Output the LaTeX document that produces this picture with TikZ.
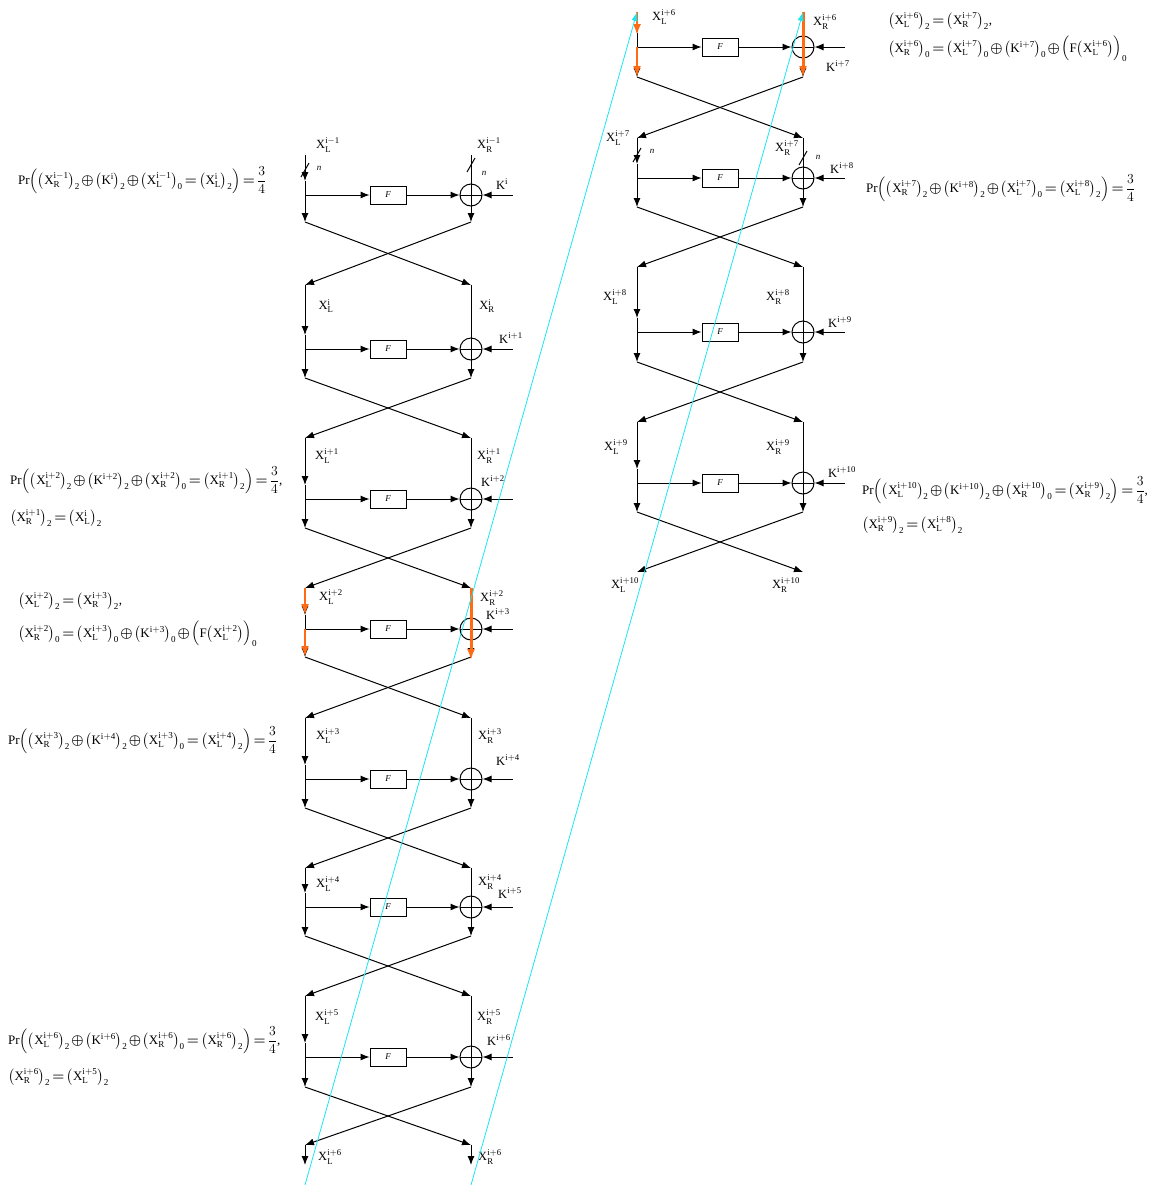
\documentclass[tikz,border=0pt]{standalone}
\usepackage{amsmath}
\usepackage{fontspec}
\setmainfont{Liberation Serif}
\usepackage{tikz}
\usetikzlibrary{arrows.meta,calc}
\definecolor{hiorange}{HTML}{FF6A13}
\definecolor{hicyan}{HTML}{19E6F2}
\newcommand{\xl}[1]{\mathrm{X}^{\mathrm{#1}}_{\mathrm{L}}}
\newcommand{\xr}[1]{\mathrm{X}^{\mathrm{#1}}_{\mathrm{R}}}
\newcommand{\kk}[1]{\mathrm{K}^{\mathrm{#1}}}
\newcommand{\pp}[2]{\bigl(#1\bigr)_{\mathrm{#2}}}
\newcommand{\opl}{\mskip2mu{\boldsymbol{\oplus}}\mskip2mu}
\newcommand{\eqq}{\mskip3mu{\boldsymbol{=}}\mskip3mu}
\newcommand{\eqline}[1]{\scalebox{0.955}{#1}}

\begin{document}
\begin{tikzpicture}[x=1pt,y=-1pt,
  wire/.style={line width=1pt},
  arr/.style={wire, -{Latex[length=9pt,width=7pt]}},
  fbox/.style={draw, line width=0.8pt, minimum width=36pt, minimum height=18pt, inner sep=0pt, font=\itshape\small},
  xorc/.style={draw, circle, minimum size=22pt, inner sep=0pt, line width=1pt,
    path picture={\draw[line width=1pt] (path picture bounding box.west) -- (path picture bounding box.east);}},
  lbl/.style={font=\fontsize{12.5}{14}\selectfont, inner sep=0pt},
  eqn/.style={font=\fontsize{13.6}{16}\selectfont, anchor=west, inner sep=0pt},
  hot/.style={draw=hiorange, line width=2pt, -{Latex[length=11pt,width=8pt]}},
  ray/.style={draw=hicyan, line width=0.8pt, -{Latex[length=9pt,width=6pt]}},
]
\useasboundingbox (0,0) rectangle (1152,1187);

% rounds: left/right x, top, F line, cross start, cross end
\foreach \r/\xa/\xb/\yt/\yf/\yc/\ye in {%
  1/305/471/155/195/222/285, 2/305/471/285/349/378/438,
  3/305/471/438/499/528/588, 4/305/471/588/629/657/718,
  5/305/471/718/779/808/868, 6/305/471/868/907/936/996,
  7/305/471/996/1057/1087/1145,
  8/637/803/12/47/77/138, 9/637/803/138/178/207/267,
  10/637/803/267/332/362/422, 11/637/803/422/483/512/572%
} {
  \pgfmathsetmacro{\xm}{(\xa+\xb)/2}
  \coordinate (lt\r) at (\xa,\yt);
  \coordinate (la\r) at (\xa,\yf-14);
  \coordinate (lf\r) at (\xa,\yf);
  \coordinate (lb\r) at (\xa,\yc);
  \coordinate (le\r) at (\xa,\ye);
  \coordinate (rt\r) at (\xb,\yt);
  \coordinate (rb\r) at (\xb,\yc);
  \coordinate (re\r) at (\xb,\ye);
  \coordinate (k\r) at (\xb+42,\yf);
  \node[fbox] (f\r) at (\xm,\yf) {F};
  \node[xorc] (x\r) at (\xb,\yf) {};
  \draw[arr] (lt\r) -- (la\r);
  \draw[wire] (la\r) -- (lf\r);
  \draw[arr] (lf\r) -- (lb\r);
  \draw[arr] (lf\r) -- (f\r);
  \draw[arr] (f\r) -- (x\r);
  \draw[arr] (k\r) -- (x\r);
  \draw[wire] (rt\r) -- (x\r.center);
  \draw[arr] (x\r.center) -- (rb\r);
  \draw[arr] (lb\r) -- (re\r);
  \draw[arr] (rb\r) -- (le\r);
}
% outputs of the last left round
\coordinate (lo) at (305,1165);
\coordinate (ro) at (471,1165);
\draw[arr] (le7) -- (lo);
\draw[arr] (re7) -- (ro);

% width marks
\foreach \sx/\sy in {305/170, 471/165, 637/155, 803/158}
  \draw[wire] (\sx-4,\sy+7) -- (\sx+4,\sy-7);
\foreach \nm/\px/\py in {n1/319/168, n2/484/173, n3/652/151, n4/818/157}
  \node[lbl, font=\itshape\small] (\nm) at (\px,\py) {n};

% half labels
\foreach \nm/\px/\py/\tx in {%
  lL1/328/145/{\xl{i{-}1}}, lR1/489/145/{\xr{i{-}1}},
  lL2/326/306/{\xl{i}}, lR2/487/306/{\xr{i}},
  lL3/327/456/{\xl{i{+}1}}, lR3/489/456/{\xr{i{+}1}},
  lL4/331/597/{\xl{i{+}2}}, lR4/492/598/{\xr{i{+}2}},
  lL5/328/736/{\xl{i{+}3}}, lR5/490/736/{\xr{i{+}3}},
  lL6/328/884/{\xl{i{+}4}}, lR6/490/882/{\xr{i{+}4}},
  lL7/327/1017/{\xl{i{+}5}}, lR7/489/1017/{\xr{i{+}5}},
  lL8/330/1157/{\xl{i{+}6}}, lR8/490/1157/{\xr{i{+}6}},
  rL1/664/17/{\xl{i{+}6}}, rR1/825/22/{\xr{i{+}6}},
  rL2/618/138/{\xl{i{+}7}}, rR2/787/148/{\xr{i{+}7}},
  rL3/615/297/{\xl{i{+}8}}, rR3/778/297/{\xr{i{+}8}},
  rL4/616/447/{\xl{i{+}9}}, rR4/778/447/{\xr{i{+}9}},
  rL5/625/585/{\xl{i{+}10}}, rR5/786/585/{\xr{i{+}10}}%
} \node[lbl] (\nm) at (\px,\py) {$\tx$};

% round keys
\foreach \nm/\px/\py/\tx in {%
  kA/502/184/{i}, kB/511/338/{i{+}1}, kC/493/481/{i{+}2}, kD/498/614/{i{+}3},
  kE/508/760/{i{+}4}, kF/510/893/{i{+}5}, kG/499/1040/{i{+}6},
  kH/838/66/{i{+}7}, kI/842/168/{i{+}8}, kJ/840/322/{i{+}9}, kK/842/472/{i{+}10}%
} \node[lbl] (\nm) at (\px,\py) {$\kk{\tx}$};

% highlighted halves
\coordinate (ob) at (305,615);
\draw[hot] (lt4) -- (ob);
\draw[hot] (lf4) -- (lb4);
\draw[hot, line width=3pt] (rt4) -- ($(rb4)+(0,3)$);
\coordinate (oc) at (637,35);
\draw[hot] (lt8) -- (oc);
\draw[hot] (lf8) -- (lb8);
\draw[hot, line width=3pt] (rt8) -- (rb8);

% trails
\coordinate (ca) at (305,1185); \coordinate (cb) at (637,12);
\coordinate (cc) at (471,1185); \coordinate (cd) at (803,12);
\draw[ray] (ca) -- (cb);
\draw[ray] (cc) -- (cd);

% relations
\node[eqn] (e1) at (18,180) {\eqline{$\mathrm{Pr}\Bigl(\pp{\xr{i{-}1}}{2}\opl\pp{\kk{i}}{2}\opl\pp{\xl{i{-}1}}{0}\eqq\pp{\xl{i}}{2}\Bigr)\eqq\dfrac{3}{4}$}};
\node[eqn] (e2a) at (10,480) {\eqline{$\mathrm{Pr}\Bigl(\pp{\xl{i{+}2}}{2}\opl\pp{\kk{i{+}2}}{2}\opl\pp{\xr{i{+}2}}{0}\eqq\pp{\xr{i{+}1}}{2}\Bigr)\eqq\dfrac{3}{4}$,}};
\node[eqn] (e2b) at (10,518) {\eqline{$\pp{\xr{i{+}1}}{2}\eqq\pp{\xl{i}}{2}$}};
\node[eqn] (e3a) at (18,601) {\eqline{$\pp{\xl{i{+}2}}{2}\eqq\pp{\xr{i{+}3}}{2}$,}};
\node[eqn] (e3b) at (18,634) {\eqline{$\pp{\xr{i{+}2}}{0}\eqq\pp{\xl{i{+}3}}{0}\opl\pp{\kk{i{+}3}}{0}\opl\Bigl(\mathrm{F}\bigl(\xl{i{+}2}\bigr)\Bigr)_{\mathrm{0}}$}};
\node[eqn] (e4) at (8,740) {\eqline{$\mathrm{Pr}\Bigl(\pp{\xr{i{+}3}}{2}\opl\pp{\kk{i{+}4}}{2}\opl\pp{\xl{i{+}3}}{0}\eqq\pp{\xl{i{+}4}}{2}\Bigr)\eqq\dfrac{3}{4}$}};
\node[eqn] (e5a) at (8,1040) {\eqline{$\mathrm{Pr}\Bigl(\pp{\xl{i{+}6}}{2}\opl\pp{\kk{i{+}6}}{2}\opl\pp{\xr{i{+}6}}{0}\eqq\pp{\xr{i{+}6}}{2}\Bigr)\eqq\dfrac{3}{4}$,}};
\node[eqn] (e5b) at (8,1077) {\eqline{$\pp{\xr{i{+}6}}{2}\eqq\pp{\xl{i{+}5}}{2}$}};
\node[eqn] (e6a) at (888,21) {\eqline{$\pp{\xl{i{+}6}}{2}\eqq\pp{\xr{i{+}7}}{2}$,}};
\node[eqn] (e6b) at (888,49) {\eqline{$\pp{\xr{i{+}6}}{0}\eqq\pp{\xl{i{+}7}}{0}\opl\pp{\kk{i{+}7}}{0}\opl\Bigl(\mathrm{F}\bigl(\xl{i{+}6}\bigr)\Bigr)_{\mathrm{0}}$}};
\node[eqn] (e7) at (866,188) {\eqline{$\mathrm{Pr}\Bigl(\pp{\xr{i{+}7}}{2}\opl\pp{\kk{i{+}8}}{2}\opl\pp{\xl{i{+}7}}{0}\eqq\pp{\xl{i{+}8}}{2}\Bigr)\eqq\dfrac{3}{4}$}};
\node[eqn] (e8a) at (862,490) {\eqline{$\mathrm{Pr}\Bigl(\pp{\xl{i{+}10}}{2}\opl\pp{\kk{i{+}10}}{2}\opl\pp{\xr{i{+}10}}{0}\eqq\pp{\xr{i{+}9}}{2}\Bigr)\eqq\dfrac{3}{4}$,}};
\node[eqn] (e8b) at (862,525) {\eqline{$\pp{\xr{i{+}9}}{2}\eqq\pp{\xl{i{+}8}}{2}$}};
\end{tikzpicture}
\end{document}
